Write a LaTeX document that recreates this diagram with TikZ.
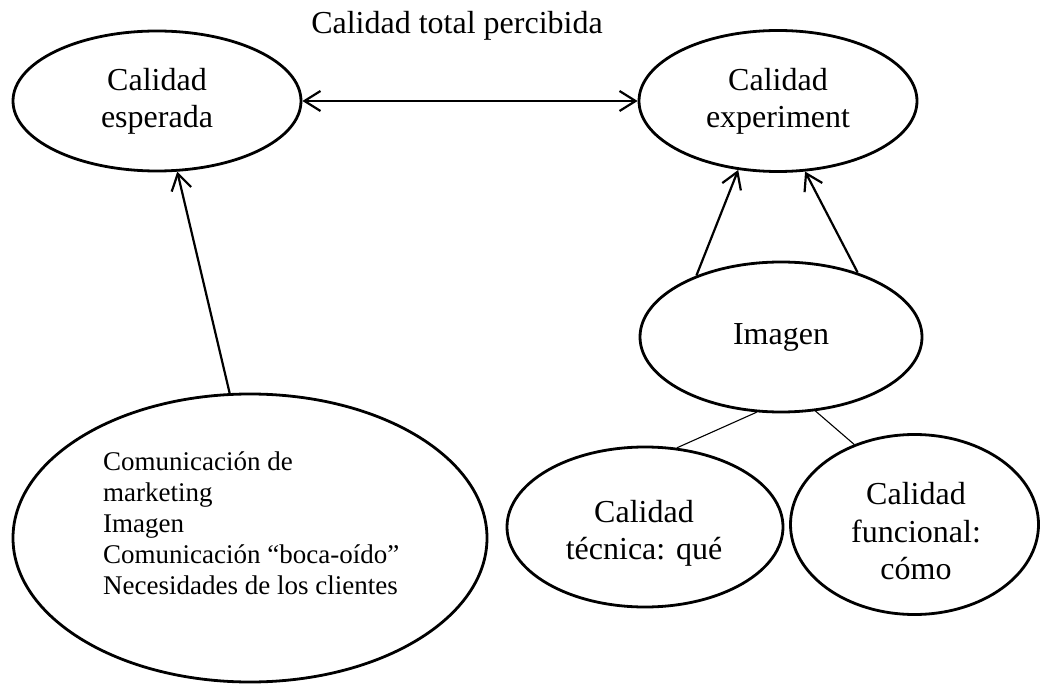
\documentclass[tikz,border=0pt]{standalone}
\usepackage{fontspec}
\setmainfont{Liberation Serif}
\usetikzlibrary{shapes.geometric,arrows.meta}

\begin{document}
\begin{tikzpicture}[x=1pt,y=-1pt,
  oval/.style={draw,ellipse,line width=2.8pt,inner sep=0pt,align=center,font=\fontsize{32}{37}\selectfont},
  big/.style={inner sep=0pt,align=center,font=\fontsize{32}{37.5}\selectfont},
  small/.style={inner sep=0pt,align=left,font=\fontsize{27}{31}\selectfont},
  arr/.style={>={Straight Barb[length=16pt,width=20pt]},line width=2.2pt},
  thin/.style={line width=1.1pt}]
\useasboundingbox (0,0) rectangle (1041,684);

\node[anchor=base,font=\fontsize{32}{36}\selectfont] (titulo) at (457,34) {Calidad total percibida};

\node[oval,minimum width=288pt,minimum height=140pt] (esperada) at (157,101) {Calidad\\esperada};
\node[oval,minimum width=278pt,minimum height=141pt] (experiment) at (778,101) {Calidad\\experiment};
\node[oval,minimum width=282pt,minimum height=150pt] (imagen) at (781,337) {Imagen};
\node[oval,minimum width=474pt,minimum height=288pt] (comunic) at (250,538) {};
\node[oval,minimum width=276pt,minimum height=160pt] (tecnica) at (645,527) {};
\node[oval,minimum width=248pt,minimum height=180pt] (funcional) at (914.5,524.5) {};

\node[small,anchor=west] (comtexto) at (103,523) {Comunicación de\\marketing\\Imagen\\Comunicación “boca-oído”\\Necesidades de los clientes};
\node[big] (tectexto) at (644,533.5) {Calidad\\técnica: qué};
\node[big] (funtexto) at (916,531.5) {Calidad\\funcional:\\cómo};

\draw[arr,<->] (esperada) -- (experiment);
\draw[arr,->] (comunic.98) -- (esperada.286);
\draw[arr,->] (imagen.144) -- (experiment.240);
\draw[arr,->] (imagen.40) -- (experiment.291);
\draw[thin] (imagen.252) -- (tecnica.68);
\draw[thin] (imagen.295) -- (funcional.127);
\end{tikzpicture}
\end{document}
